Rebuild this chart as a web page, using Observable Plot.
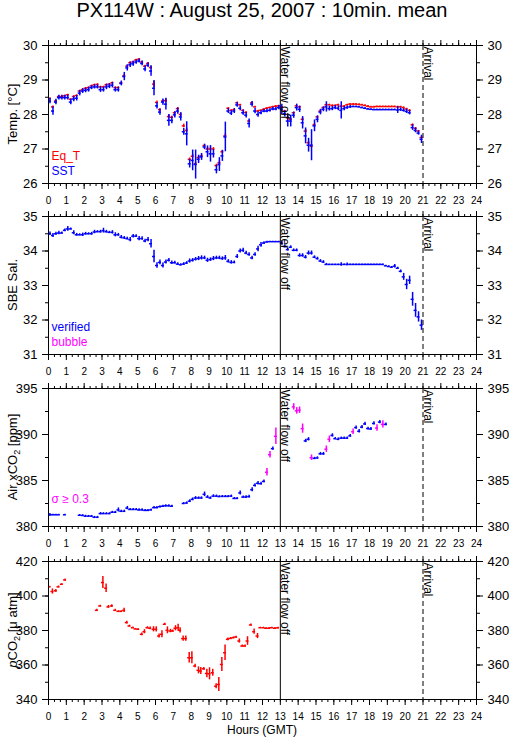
<!DOCTYPE html>
<html>
<head>
<meta charset="utf-8">
<script src="https://cdn.jsdelivr.net/npm/d3@7"></script>
<script src="https://cdn.jsdelivr.net/npm/@observablehq/plot@0.6"></script>
<style>
  html,body{margin:0;padding:0;background:#fff;}
  #fig{position:relative;width:509px;height:739px;overflow:hidden;background:#fff;font-family:"Liberation Sans",Arial,Helvetica,sans-serif;color:#000;}
  #title{position:absolute;left:0;top:0;width:524px;text-align:center;font-size:20px;line-height:20px;white-space:nowrap;}
  #xlabel{position:absolute;left:0;top:724px;width:524px;text-align:center;font-size:12px;line-height:12px;white-space:nowrap;}
  .panel{position:absolute;left:0;}
</style>
</head>
<body>
<div id="fig"><div id="title"></div><div id="xlabel"></div></div>
<script>
// ---------------- texts ----------------
const titleText = "PX114W : August 25, 2007 : 10min. mean";
const xAxisTitle = "Hours (GMT)";
const eventHours = [13, 21];
const eventLabels = ["Water flow off", "Arrival"];

// ---------------- ticks ----------------
const hourTicks = [0,1,2,3,4,5,6,7,8,9,10,11,12,13,14,15,16,17,18,19,20,21,22,23,24];
const tempTicks = [26,27,28,29,30];
const salTicks = [31,32,33,34,35];
const airTicks = [380,385,390,395];
const pco2Ticks = [340,360,380,400,420];

// ---------------- panel 1 : temperature (10-min means) ----------------
const sst = [28.39,28.10,28.36,28.49,28.49,28.49,28.49,28.36,28.45,28.47,
 28.62,28.68,28.70,28.72,28.78,28.80,28.80,28.72,28.72,28.80,
 28.82,28.85,28.72,28.72,28.90,29.10,29.35,29.44,29.47,29.52,
 29.55,29.48,29.32,29.43,29.26,28.76,28.25,28.07,28.36,28.30,
 27.83,27.83,27.99,28.10,27.93,27.50,27.44,26.57,26.67,26.55,
 26.70,26.77,27.06,26.92,26.86,26.86,26.40,26.55,26.80,27.35,
 28.10,28.04,28.10,28.28,28.18,28.05,27.98,27.74,28.30,28.10,
 28.00,28.05,28.10,28.10,28.12,28.16,28.16,28.20,28.15,28.02,
 27.81,27.81,27.98,28.20,28.15,27.76,27.38,27.11,27.11,27.67,
 27.86,28.07,28.15,28.22,28.17,28.17,28.20,28.18,28.12,28.17,
 28.20,28.22,28.23,28.23,28.22,28.20,28.18,28.16,28.15,28.14,
 28.14,28.14,28.14,28.14,28.14,28.14,28.14,28.13,28.14,28.12,
 28.09,28.05,27.62,27.54,27.46,27.28];
const sstSd = [0.08,0.12,0.08,0.07,0.07,0.07,0.07,0.08,0.08,0.08,
 0.08,0.07,0.07,0.07,0.06,0.06,0.06,0.08,0.07,0.08,
 0.07,0.08,0.07,0.07,0.07,0.12,0.09,0.08,0.07,0.06,
 0.06,0.07,0.08,0.07,0.15,0.22,0.09,0.09,0.09,0.17,
 0.17,0.10,0.09,0.09,0.12,0.10,0.35,0.12,0.30,0.42,
 0.12,0.10,0.08,0.17,0.24,0.12,0.12,0.20,0.16,0.43,
 0.07,0.07,0.07,0.07,0.07,0.07,0.08,0.13,0.08,0.08,
 0.08,0.06,0.05,0.05,0.05,0.05,0.05,0.06,0.15,0.09,
 0.17,0.17,0.09,0.10,0.09,0.18,0.23,0.20,0.45,0.17,
 0.10,0.08,0.07,0.15,0.07,0.06,0.06,0.07,0.25,0.06,
 0.05,0.04,0.02,0.02,0.02,0.02,0.02,0.02,0.02,0.02,
 0.02,0.02,0.02,0.02,0.02,0.02,0.02,0.10,0.05,0.05,
 0.06,0.06,0.08,0.07,0.06,0.12];
const eqT = [28.46,28.22,28.39,28.52,28.52,28.54,28.57,28.44,28.52,28.55,
 28.68,28.72,28.76,28.78,28.83,28.86,28.87,28.80,28.80,28.86,
 28.88,28.92,28.78,28.78,28.92,29.12,29.40,29.50,29.52,29.58,
 29.60,29.52,29.40,29.48,29.36,28.88,28.35,28.14,28.39,28.40,
 27.94,27.92,28.05,28.17,28.00,27.67,27.54,26.70,26.79,26.57,
 26.75,26.80,27.10,27.00,27.00,27.00,26.52,26.60,26.92,27.38,
 28.18,28.12,28.14,28.34,28.28,28.12,28.06,27.81,28.34,28.22,
 28.10,28.12,28.15,28.18,28.20,28.22,28.24,28.25,28.22,28.10,
 27.90,27.86,28.05,28.25,28.22,27.86,27.52,27.18,27.08,27.70,
 27.93,28.10,28.20,28.28,28.28,28.26,28.26,28.28,28.24,28.24,
 28.28,28.30,28.30,28.30,28.29,28.28,28.26,28.24,28.22,28.22,
 28.23,28.23,28.23,28.23,28.23,28.23,28.23,28.22,28.22,28.20,
 28.16,28.12,27.70,27.60,27.52,27.33];
const eqTSd = [0.02,0.03,0.02,0.02,0.02,0.02,0.02,0.02,0.02,0.02,
 0.02,0.02,0.02,0.02,0.02,0.02,0.02,0.02,0.02,0.02,
 0.02,0.02,0.02,0.02,0.02,0.04,0.03,0.02,0.02,0.02,
 0.02,0.02,0.03,0.02,0.04,0.10,0.04,0.03,0.03,0.05,
 0.05,0.03,0.03,0.03,0.04,0.05,0.06,0.04,0.05,0.05,
 0.04,0.03,0.02,0.04,0.05,0.04,0.04,0.05,0.04,0.06,
 0.02,0.02,0.02,0.02,0.02,0.02,0.02,0.02,0.02,0.02,
 0.02,0.02,0.02,0.02,0.02,0.02,0.02,0.02,0.02,0.02,
 0.03,0.03,0.02,0.02,0.02,0.04,0.05,0.04,0.05,0.04,
 0.02,0.02,0.02,0.02,0.02,0.02,0.02,0.02,0.02,0.02,
 0.02,0.02,0.02,0.02,0.02,0.02,0.02,0.02,0.02,0.02,
 0.02,0.02,0.02,0.02,0.02,0.02,0.02,0.02,0.02,0.02,
 0.02,0.02,0.03,0.02,0.02,0.03];

// ---------------- panel 2 : SBE salinity ----------------
const sal = [34.50,34.45,34.50,34.52,34.52,34.60,34.64,34.64,34.53,34.47,
 34.47,34.47,34.50,34.50,34.50,34.55,34.56,34.56,34.59,34.56,
 34.54,34.54,34.47,34.47,34.40,34.38,34.36,34.33,34.43,34.43,
 34.36,34.36,34.29,34.33,34.21,33.84,33.58,33.67,33.58,33.68,
 33.73,33.66,33.66,33.62,33.60,33.62,33.65,33.71,33.73,33.76,
 33.78,33.80,33.80,33.73,33.75,33.78,33.80,33.80,33.78,33.80,
 33.70,33.67,33.67,33.84,34.00,34.02,33.94,33.90,33.80,33.90,
 34.06,34.18,34.23,34.26,34.27,34.27,34.27,34.27,34.23,34.13,
 34.04,34.11,34.02,34.02,33.87,33.87,33.82,33.94,33.94,33.82,
 33.78,33.71,33.68,33.61,33.61,33.61,33.61,33.61,33.61,33.61,
 33.61,33.61,33.61,33.61,33.61,33.61,33.61,33.61,33.61,33.61,
 33.61,33.61,33.61,33.57,33.55,33.53,33.56,33.50,33.41,33.25,
 33.03,33.15,32.60,32.28,32.09,31.85];
const salSd = [0.05,0.06,0.04,0.05,0.03,0.04,0.07,0.03,0.06,0.04,
 0.03,0.05,0.04,0.03,0.04,0.05,0.03,0.04,0.07,0.04,
 0.03,0.05,0.06,0.04,0.05,0.04,0.04,0.06,0.05,0.04,
 0.06,0.05,0.05,0.06,0.12,0.18,0.08,0.07,0.07,0.06,
 0.05,0.05,0.04,0.04,0.03,0.04,0.04,0.06,0.05,0.05,
 0.06,0.06,0.05,0.06,0.05,0.06,0.05,0.05,0.05,0.07,
 0.05,0.05,0.04,0.06,0.06,0.06,0.05,0.05,0.05,0.05,
 0.08,0.07,0.04,0.02,0.01,0.01,0.01,0.01,0.06,0.04,
 0.04,0.04,0.04,0.04,0.05,0.05,0.05,0.06,0.06,0.04,
 0.04,0.04,0.04,0.03,0.01,0.01,0.01,0.01,0.05,0.01,
 0.04,0.01,0.01,0.01,0.01,0.01,0.01,0.01,0.01,0.01,
 0.01,0.01,0.01,0.02,0.02,0.02,0.05,0.03,0.04,0.10,
 0.15,0.12,0.20,0.20,0.15,0.15];

// ---------------- panel 3 : Air xCO2 ----------------
const airHours = [0.08,0.25,0.42,0.58,0.92,
 1.75,1.92,2.08,2.25,2.42,2.58,2.75,2.92,3.08,3.25,3.42,3.58,3.75,3.92,4.08,4.25,4.42,4.58,4.75,4.92,
 5.08,5.25,5.42,5.58,5.75,5.92,6.08,6.25,6.42,6.58,6.75,6.92,
 7.58,7.75,7.92,8.08,8.25,8.42,8.58,8.75,8.92,9.08,9.25,9.42,9.58,9.75,9.92,10.08,10.25,10.42,10.58,
 10.75,10.92,11.08,11.25,11.42,11.58,11.75,11.92,12.08,12.25,12.42,12.58,12.75,
 13.75,13.92,14.08,14.25,14.42,14.58,14.75,14.92,15.08,15.25,15.42,15.58,15.75,15.92,16.08,16.25,
 16.42,16.58,16.75,16.92,17.08,17.25,17.42,17.58,17.75,17.92,18.08,18.25,18.42,18.58,18.75,18.92];
const airCO2 = [381.27,381.27,381.27,381.27,381.27,
 381.22,381.20,381.12,381.12,381.12,381.00,381.00,381.40,381.40,381.40,381.40,381.55,381.55,381.80,381.65,381.65,382.00,381.85,381.85,381.85,
 381.80,381.80,381.75,381.75,381.80,382.05,382.05,382.15,382.20,382.25,382.25,382.20,
 382.50,382.55,382.75,382.95,383.10,383.10,383.10,383.50,383.20,383.10,383.30,383.30,383.25,383.27,383.27,383.27,383.30,383.05,383.05,
 383.65,383.20,383.20,383.25,384.00,384.47,384.70,384.65,384.90,385.90,387.80,388.46,389.80,
 393.00,392.57,392.64,390.64,389.30,389.48,387.48,387.40,387.45,387.90,387.90,388.40,389.48,389.90,389.55,389.48,
 389.60,389.60,389.60,389.85,390.30,390.75,390.35,390.80,391.15,390.65,390.60,391.20,390.70,391.35,391.10,391.10];
const airSd = [0.15,0.05,0.05,0.05,0.05,
 0.08,0.08,0.10,0.08,0.08,0.10,0.10,0.12,0.10,0.10,0.10,0.10,0.10,0.22,0.12,0.12,0.18,0.12,0.12,0.12,
 0.12,0.12,0.10,0.10,0.10,0.12,0.12,0.10,0.10,0.12,0.12,0.10,
 0.10,0.12,0.15,0.15,0.15,0.12,0.12,0.25,0.15,0.12,0.15,0.12,0.10,0.10,0.10,0.10,0.12,0.10,0.10,
 0.22,0.12,0.15,0.15,0.22,0.18,0.18,0.15,0.15,0.40,0.35,0.18,0.90,
 0.35,0.35,0.35,0.50,0.18,0.18,0.30,0.12,0.12,0.15,0.15,0.35,0.35,0.18,0.12,0.15,
 0.12,0.12,0.12,0.15,0.30,0.18,0.18,0.18,0.18,0.15,0.15,0.18,0.35,0.18,0.40,0.15];

// ---------------- panel 4 : pCO2 ----------------
const pco2Hours = [0.06,0.22,0.41,0.56,0.75,0.93,
 2.71,2.90,3.05,3.23,3.36,3.55,3.74,3.92,4.08,4.24,4.39,4.54,4.73,4.88,5.03,5.23,5.38,5.55,5.70,5.89,
 6.04,6.20,6.36,6.52,6.67,6.84,6.97,7.12,7.27,7.38,7.55,7.70,7.89,8.04,8.22,8.41,8.54,8.71,8.88,9.03,
 9.21,9.40,9.55,9.72,9.90,10.06,10.22,10.37,10.52,10.70,10.87,11.02,11.16,11.35,11.53,11.72,11.88,12.05,
 12.20,12.37,12.53,12.70,12.87];
const pco2 = [405.3,402.6,403.0,405.3,406.8,409.3,
 391.7,394.2,407.8,404.5,393.7,394.2,391.7,391.1,391.1,391.7,384.6,382.6,381.6,380.9,380.7,377.8,379.3,381.6,381.3,380.7,
 380.7,376.8,377.8,383.6,380.1,379.7,379.7,381.3,381.6,380.1,375.3,375.3,364.2,364.2,359.4,356.9,356.5,357.8,355.1,354.9,
 355.5,347.7,348.7,360.3,367.1,374.9,375.4,375.8,376.2,373.9,371.0,371.0,373.9,383.2,379.3,376.8,381.6,381.6,
 381.3,381.3,381.6,381.3,381.5];
const pco2Sd = [0.3,1.5,0.8,0.5,0.3,0.6,
 0.6,0.4,3.5,2.5,0.8,0.8,0.6,0.3,0.3,1.2,0.8,0.5,0.4,0.3,0.3,0.8,1.2,0.6,0.8,1.5,
 1.5,1.2,2.0,0.6,2.0,1.0,0.6,1.5,2.0,1.5,1.5,1.5,3.0,3.5,1.0,2.0,2.0,0.8,2.5,3.5,
 2.0,1.5,4.0,4.0,4.5,0.8,0.5,0.5,0.5,1.2,0.6,0.6,2.5,0.5,1.5,1.5,0.3,0.3,
 0.3,0.4,0.3,0.4,0.4];

// ---------------- styling ----------------
const RED = "#ff0000", BLUE = "#0000ff", MAGENTA = "#ff00ff";
const FONT = "Liberation Sans, Arial, Helvetica, sans-serif";
const HALF = 5 / 60;          // half width of a 10-min mean bar (hours)
const SW = 1.5;
const MT = 12, MB = 24, H = 138, ML = 48, MR = 33;
const minorHours = d3.range(0, 24.001, 1 / 3);

const tempHours = sst.map((_, i) => i / 6 + 1 / 12); // 10-min mean centres
const rows = (hours, vals, sd) => vals.map((v, i) => ({h: hours[i], v, s: sd[i]}));

function crosses(data, color) {
  return [
    Plot.ruleY(data, {y: "v", x1: d => d.h - HALF, x2: d => d.h + HALF, stroke: color, strokeWidth: SW, clip: true}),
    Plot.ruleX(data, {x: "h", y1: d => d.v - d.s, y2: d => d.v + d.s, stroke: color, strokeWidth: SW, clip: true})
  ];
}

const fig = document.getElementById("fig");
document.getElementById("title").textContent = titleText;
document.getElementById("xlabel").textContent = xAxisTitle;

function makePanel(cfg) {
  const majorY = cfg.yticks;
  const minorY = d3.range(majorY[0], majorY[majorY.length - 1] + 1e-9, (majorY[1] - majorY[0]) / 2);
  const legendMarks = cfg.legend.map((l, k) => Plot.text([l.t], {
    frameAnchor: "bottom-left", text: d => d, fill: l.c, textAnchor: "start",
    fontSize: 12, dx: 3, dy: -(23.5 - 14.5 * k)
  }));
  const eventMarks = eventHours.flatMap((h, k) => [
    Plot.ruleX([h], {x: d => d, stroke: "black", strokeWidth: 1, strokeDasharray: k === 1 ? "5,3" : null}),
    Plot.text([eventLabels[k]], {x: () => h, frameAnchor: "top", text: d => d, rotate: 90,
      textAnchor: "start", lineAnchor: "bottom", fontSize: 12, dx: 0.5, dy: 1, fill: "black"})
  ]);
  const fmt = d => String(d);
  const svg = Plot.plot({
    width: 509, height: MT + H + MB,
    marginLeft: ML, marginRight: MR, marginTop: MT, marginBottom: MB,
    style: {background: "transparent", fontFamily: FONT, fontSize: "13px", overflow: "visible", color: "black"},
    x: {domain: [0, 24]},
    y: {domain: cfg.domain},
    color: {type: "identity"},
    marks: [
      ...cfg.marks,
      ...eventMarks,
      ...legendMarks,
      Plot.frame({stroke: "black", strokeWidth: 1}),
      Plot.axisX({anchor: "bottom", ticks: hourTicks, tickSize: 6, tickPadding: 7, tickFormat: fmt, fontSize: 10, label: null}),
      Plot.axisX({anchor: "bottom", ticks: minorHours, tickSize: 3, tickFormat: () => "", label: null}),
      Plot.axisX({anchor: "top", ticks: hourTicks, tickSize: 6, tickFormat: () => "", label: null}),
      Plot.axisX({anchor: "top", ticks: minorHours, tickSize: 3, tickFormat: () => "", label: null}),
      Plot.axisY({anchor: "left", ticks: majorY, tickSize: 6, tickPadding: 5, tickFormat: fmt, fontSize: 13, label: null}),
      Plot.axisY({anchor: "left", ticks: minorY, tickSize: 3, tickFormat: () => "", label: null}),
      Plot.axisY({anchor: "right", ticks: majorY, tickSize: 6, tickPadding: 5, tickFormat: fmt, fontSize: 13, label: null}),
      Plot.axisY({anchor: "right", ticks: minorY, tickSize: 3, tickFormat: () => "", label: null})
    ]
  });
  const t = d3.select(svg).append("text")
    .attr("transform", `translate(17,${MT + H / 2}) rotate(-90)`)
    .attr("text-anchor", "middle").attr("font-size", 13).attr("fill", "black")
    .attr("font-family", FONT);
  cfg.ylabel.forEach(p => {
    const ts = t.append("tspan").text(p.t);
    if (p.it) ts.attr("font-style", "italic");
    if (p.sub) ts.attr("dy", 3).attr("font-size", 9);
    if (p.back) ts.attr("dy", -3);
  });
  svg.classList.add("panel");
  svg.style.position = "absolute";
  svg.style.top = (cfg.top - MT) + "px";
  svg.style.left = "0px";
  fig.appendChild(svg);
}

makePanel({
  top: 45, domain: [26, 30], yticks: tempTicks,
  ylabel: [{t: "Temp. [°C]"}],
  legend: [{t: "Eq_T", c: RED}, {t: "SST", c: BLUE}],
  marks: [...crosses(rows(tempHours, eqT, eqTSd), RED), ...crosses(rows(tempHours, sst, sstSd), BLUE)]
});
makePanel({
  top: 216, domain: [31, 35], yticks: salTicks,
  ylabel: [{t: "SBE Sal."}],
  legend: [{t: "verified", c: BLUE}, {t: "bubble", c: MAGENTA}],
  marks: crosses(rows(tempHours, sal, salSd), BLUE)
});
makePanel({
  top: 388, domain: [380, 395], yticks: airTicks,
  ylabel: [{t: "Air xCO"}, {t: "2", sub: true}, {t: " [ppm]", back: true}],
  legend: [{t: "σ ≥ 0.3", c: MAGENTA}],
  marks: crosses(rows(airHours, airCO2, airSd), d => d.s >= 0.3 ? MAGENTA : BLUE)
});
makePanel({
  top: 561, domain: [340, 420], yticks: pco2Ticks,
  ylabel: [{t: "p", it: true}, {t: "CO"}, {t: "2", sub: true}, {t: " [μ atm]", back: true}],
  legend: [],
  marks: crosses(rows(pco2Hours, pco2, pco2Sd), RED)
});
</script>
</body>
</html>
